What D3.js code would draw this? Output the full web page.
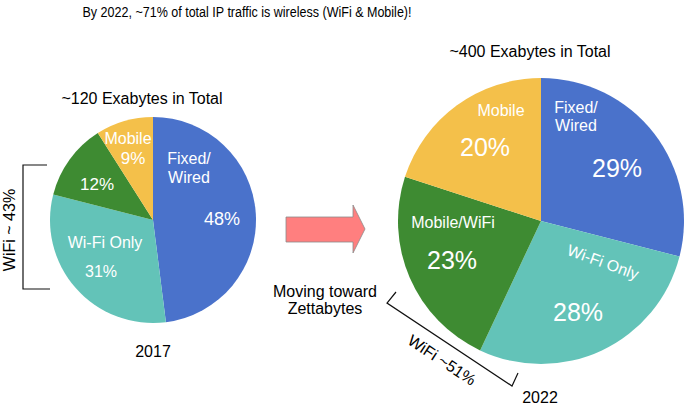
<!DOCTYPE html>
<html>
<head>
<meta charset="utf-8">
<script src="https://cdn.jsdelivr.net/npm/d3@7"></script>
<style>
  body { margin: 0; background: #fff; }
  svg { display: block; font-family: 'Liberation Sans', Arial, sans-serif; }
</style>
</head>
<body>
<div class="container"></div>
<script>
// data
const categories = ['Fixed/Wired', 'Wi-Fi Only', 'Mobile/WiFi', 'Mobile'];
const values2017 = [48, 31, 12, 9];
const values2022 = [29, 28, 23, 20];
const years = ['2017', '2022'];
const totals = ['~120 Exabytes in Total', '~400 Exabytes in Total'];
const colors = ['#4a72cb', '#63c3b8', '#3e8b32', '#f4c04a'];

const width = 685;
const height = 408;

const svg = d3.select('.container').append('svg').attr('width', width).attr('height', height);

svg
  .append('text')
  .attr('x', 247)
  .attr('y', 17)
  .attr('text-anchor', 'middle')
  .attr('font-size', 14)
  .attr('textLength', 329)
  .attr('lengthAdjust', 'spacingAndGlyphs')
  .text('By 2022, ~71% of total IP traffic is wireless (WiFi & Mobile)!');

const pie = d3.pie().sort(null).value(d => d);

// label layout per pie: [text, dx, dy, size, rotate]
const layouts = [
  {
    cx: 153, cy: 220, r: 103, titleY: 104, yearY: 357,
    labels: [
      ['Fixed/', 36, -62, 16], ['Wired', 36, -43, 16], ['48%', 69, -1, 18],
      ['Wi-Fi Only', -48, 22, 16], ['31%', -52, 51, 16],
      ['12%', -56, -36, 17],
      ['Mobile', -25, -82, 16], ['9%', -20, -62, 17]
    ]
  },
  {
    cx: 541, cy: 221, r: 143, titleY: 57, yearY: 403,
    labels: [
      ['Fixed/', 35, -114, 16], ['Wired', 35, -96, 16], ['29%', 76, -53, 25],
      ['Wi-Fi Only', 62, 41, 16, 20], ['28%', 37, 91, 25],
      ['Mobile/WiFi', -88, 1, 16], ['23%', -89, 39, 25],
      ['Mobile', -40, -111, 16], ['20%', -56, -74, 25]
    ]
  }
];

[values2017, values2022].forEach((values, i) => {
  const lay = layouts[i];
  const g = svg.append('g').attr('transform', `translate(${lay.cx},${lay.cy})`);
  const arc = d3.arc().innerRadius(0).outerRadius(lay.r);

  g.selectAll('path')
    .data(pie(values))
    .enter()
    .append('path')
    .attr('d', arc)
    .attr('fill', (d, j) => colors[j]);

  g.selectAll('text.lbl')
    .data(lay.labels)
    .enter()
    .append('text')
    .attr('class', 'lbl')
    .attr('transform', d => `translate(${d[1]},${d[2]}) rotate(${d[4] || 0})`)
    .attr('dy', '0.35em')
    .attr('text-anchor', 'middle')
    .attr('font-size', d => d[3])
    .attr('fill', '#fff')
    .text(d => d[0]);

  svg
    .append('text')
    .attr('x', lay.cx - 11)
    .attr('y', lay.titleY)
    .attr('text-anchor', 'middle')
    .attr('font-size', 16)
    .text(totals[i]);

  svg
    .append('text')
    .attr('x', i === 0 ? lay.cx : lay.cx - 1)
    .attr('y', lay.yearY)
    .attr('text-anchor', 'middle')
    .attr('font-size', 16)
    .text(years[i]);
});

// left bracket
svg
  .append('path')
  .attr('d', 'M47,165 H23 V289 H50')
  .attr('fill', 'none')
  .attr('stroke', '#111')
  .attr('stroke-width', 1.2);

svg
  .append('text')
  .attr('transform', 'translate(15,230) rotate(-90)')
  .attr('text-anchor', 'middle')
  .attr('font-size', 16)
  .text('WiFi ~ 43%');

// right bracket
svg
  .append('path')
  .attr('d', 'M396,292 L387,303 L512,386 L518,373')
  .attr('fill', 'none')
  .attr('stroke', '#111')
  .attr('stroke-width', 1.2);

svg
  .append('text')
  .attr('transform', 'translate(442,360) rotate(33.6)')
  .attr('dy', '0.35em')
  .attr('text-anchor', 'middle')
  .attr('font-size', 16)
  .text('WiFi ~51%');

// arrow
svg
  .append('path')
  .attr('d', 'M286,217 H353 V205 L365,229 L353,253 V242 H286 Z')
  .attr('fill', '#ff7f7f')
  .attr('stroke', '#8c8c8c')
  .attr('stroke-width', 0.8);

svg
  .append('text')
  .attr('x', 325)
  .attr('y', 297)
  .attr('text-anchor', 'middle')
  .attr('font-size', 16)
  .text('Moving toward');

svg
  .append('text')
  .attr('x', 325)
  .attr('y', 314)
  .attr('text-anchor', 'middle')
  .attr('font-size', 16)
  .text('Zettabytes');
</script>
</body>
</html>
